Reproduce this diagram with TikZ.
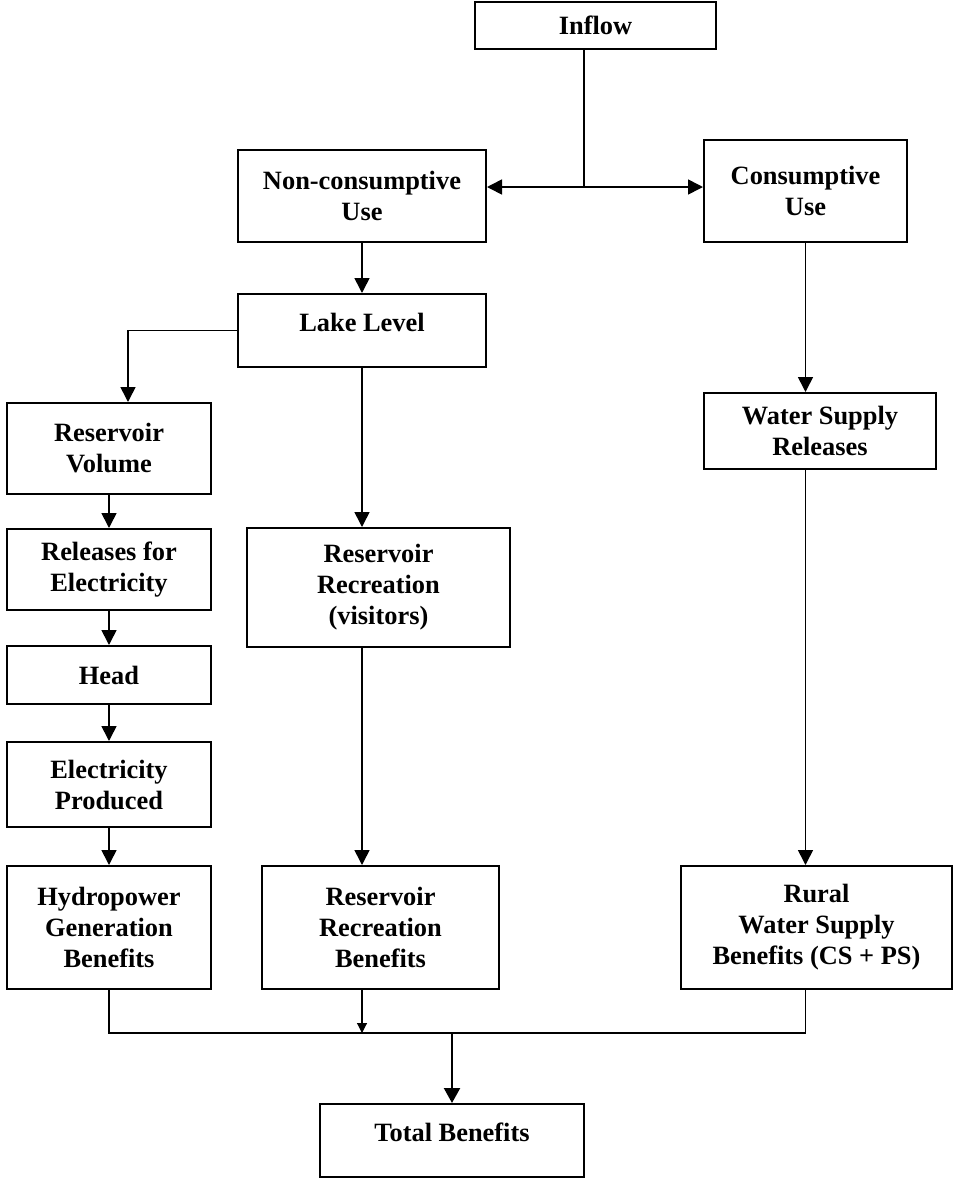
\documentclass[tikz,border=0pt]{standalone}
\usepackage{fontspec}
\setmainfont{Liberation Serif}
\usetikzlibrary{arrows.meta}
\tikzset{blk/.style={draw,line width=1pt,inner sep=0pt,align=center,
    font=\bfseries\fontsize{13.2}{15.5}\selectfont},
  ln/.style={line width=.8pt},
  arr/.style={ln,-{Triangle[length=7.5pt,width=7.5pt]}},
  arrsm/.style={line width=.55pt,-{Triangle[length=5pt,width=5pt]}},
  arrbig/.style={line width=1.1pt,-{Triangle[length=7.5pt,width=8pt]}}}

\begin{document}
\begin{tikzpicture}[x=.5pt,y=-.5pt]
  \useasboundingbox (0,0) rectangle (953,1179);
  \node[blk,minimum width=120.5pt,minimum height=23.5pt] (inflow) at (595.5,25.5) {Inflow};
  \node[blk,minimum width=124pt,minimum height=46pt] (noncons) at (362,196) {Non-consumptive\\Use};
  \node[blk,minimum width=101.5pt,minimum height=51pt] (cons) at (805.5,191) {Consumptive\\Use};
  \node[blk,minimum width=124pt,minimum height=36.5pt,text depth=8pt] (lake) at (362,330.5) {Lake Level};
  \node[blk,minimum width=102pt,minimum height=45.5pt] (rv) at (109,448.5) {Reservoir\\Volume};
  \node[blk,minimum width=102pt,minimum height=40.5pt] (rel) at (109,569.5) {Releases for\\Electricity};
  \node[blk,minimum width=102pt,minimum height=29pt] (head) at (109,675) {Head};
  \node[blk,minimum width=102pt,minimum height=42.5pt] (ep) at (109,784.5) {Electricity\\Produced};
  \node[blk,minimum width=102pt,minimum height=61.5pt] (hydro) at (109,927.5) {Hydropower\\Generation\\Benefits};
  \node[blk,minimum width=131.5pt,minimum height=59.5pt] (rrv) at (378.5,587.5) {Reservoir\\Recreation\\(visitors)};
  \node[blk,minimum width=118.5pt,minimum height=61.5pt] (rrb) at (380.5,927.5) {Reservoir\\Recreation\\Benefits};
  \node[blk,minimum width=116pt,minimum height=38pt] (wsr) at (820,431) {Water Supply\\Releases};
  \node[blk,minimum width=135.5pt,minimum height=61.5pt] (rural) at (816.5,927.5) {Rural\\Water Supply\\Benefits (CS + PS)};
  \node[blk,minimum width=132pt,minimum height=36.5pt,text depth=8pt] (total) at (452,1140.5) {Total Benefits};

  \coordinate (split) at (584,187); \coordinate (lk) at (128,331);
  \coordinate (merge) at (452,1033);
  \draw[ln] (inflow.south -| split) -- (split);
  \draw[arr] (split) -- (noncons.east |- split); \draw[arr] (split) -- (cons.west |- split);
  \draw[arr] (noncons) -- (lake);
  \draw[arr] (lake.west) -| (lk |- rv.north);
  \foreach \a/\b in {rv/rel,rel/head,head/ep,ep/hydro} \draw[arr] (\a) -- (\b);
  \draw[arr] (lake.south) -- (lake.south |- rrv.north);
  \draw[arr] (rrv.south -| lake.south) -- (lake.south |- rrb.north);
  \draw[arr] (cons.south) -- (cons.south |- wsr.north);
  \draw[arr] (wsr.south -| cons.south) -- (cons.south |- rural.north);
  \draw[ln] (hydro.south) |- (merge) -| (rural.south -| cons.south);
  \draw[arrsm] (rrb.south -| lake.south) -- (merge -| lake.south);
  \draw[arrbig] (merge) -- (merge |- total.north);
\end{tikzpicture}
\end{document}
